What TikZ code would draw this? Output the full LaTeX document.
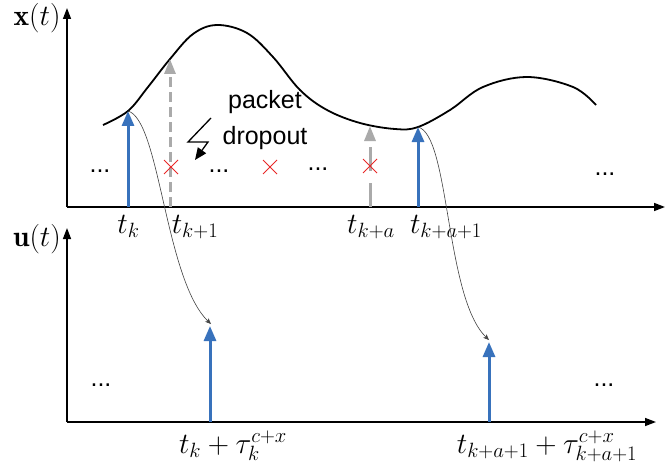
\RequirePackage{fix-cm}
\documentclass[tikz,border=0pt]{standalone}
\usepackage{fontspec}
\newfontfamily\labelsans{Liberation Sans}
\usetikzlibrary{arrows.meta}
\definecolor{sigblue}{RGB}{56,114,188}
\definecolor{siggray}{RGB}{170,170,170}
\definecolor{xred}{RGB}{232,40,40}
\begin{document}
\begin{tikzpicture}[x=1pt,y=-1pt,
  axis/.style={line width=1.5pt,-{Triangle[width=8pt,length=11pt]}},
  sigcurve/.style={line width=1.8pt},
  bluearr/.style={sigblue,line width=3pt,-{Triangle[width=12pt,length=15pt]}},
  grayarr/.style={siggray,line width=3pt,-{Triangle[width=11pt,length=15pt]}},
  link/.style={black!75,line width=0.6pt,-{Stealth[width=5pt,length=6pt]}},
  mlabel/.style={inner sep=0pt,anchor=base,font=\fontsize{29.5}{32}\selectfont},
  dots/.style={inner sep=0pt,anchor=base,font=\labelsans\fontsize{25}{28}\selectfont},
  cross/.style={xred,line width=1pt},
  bolt/.style={line width=1.3pt,-{Triangle[width=10pt,length=12pt]}}]
\useasboundingbox (0,0) rectangle (666,468);
% axes
\coordinate (O1) at (67,207);
\coordinate (Y1) at (67,8);
\coordinate (X1) at (665,207);
\coordinate (O2) at (67,422);
\coordinate (Y2) at (67,228);
\coordinate (X2) at (656,422);
\draw[axis] (O1) -- (Y1);
\draw[axis] (O1) -- (X1);
\draw[axis] (O2) -- (Y2);
\draw[axis] (O2) -- (X2);
\node[mlabel] (xl) at (37,26) {$\mathbf{x}(t)$};
\node[mlabel] (ul) at (37,246) {$\mathbf{u}(t)$};
% state curve
\draw[sigcurve] plot[smooth,tension=0.6] coordinates {(103,125) (128,111) (148,87) (170,59) (193,34) (217,25) (247,33) (273,57) (300,90) (327,110) (360,123) (395,129) (418,127) (450,110) (483,87) (527,77) (573,87) (596,105)};
% sampling arrows
\coordinate (a0) at (128,207); \coordinate (a0t) at (128,111);
\coordinate (a1) at (170,207); \coordinate (a1t) at (170,59);
\coordinate (a2) at (370,207); \coordinate (a2t) at (370,126);
\coordinate (a3) at (418,207); \coordinate (a3t) at (418,127);
\draw[bluearr] (a0) -- (a0t);
\draw[grayarr,dash pattern=on 10pt off 5pt] (a1) -- (a1t);
\draw[grayarr,dash pattern=on 24pt off 12pt] (a2) -- (a2t);
\draw[bluearr] (a3) -- (a3t);
% crosses
\foreach \n/\cx/\cy in {c1/171/167, c2/270/167, c3/370/166}{
  \coordinate (\n) at (\cx,\cy);
  \draw[cross] ([shift={(-7,-7)}]\n) -- ([shift={(7,7)}]\n);
  \draw[cross] ([shift={(-7,7)}]\n) -- ([shift={(7,-7)}]\n);
}
% dots
\node[dots] (d1) at (100,172) {...};
\node[dots] (d2) at (219,172) {...};
\node[dots] (d3) at (318,170) {...};
\node[dots] (d4) at (605,175) {...};
\node[dots] (d5) at (101,386) {...};
\node[dots] (d6) at (604,386) {...};
% packet dropout
\node[inner sep=0pt,align=center,font=\labelsans\fontsize{25}{36}\selectfont] (pd) at (265,120) {packet\\dropout};
\coordinate (b1) at (211,118);
\coordinate (b2) at (188,142);
\coordinate (b3) at (208,142);
\coordinate (b4) at (195,160);
\draw[bolt] (b1) -- (b2) -- (b3) -- (b4);
% time labels
\node[mlabel] (tk) at (128.5,233) {$t_k$};
\node[mlabel] (tk1) at (195,233) {$t_{k+1}$};
\node[mlabel] (tka) at (371,233) {$t_{k+a}$};
\node[mlabel] (tka1) at (446,233) {$t_{k+a+1}$};
% control arrows
\coordinate (u1) at (210,422); \coordinate (u1t) at (210,326);
\coordinate (u2) at (489,422); \coordinate (u2t) at (489,342);
\draw[bluearr] (u1) -- (u1t);
\draw[bluearr] (u2) -- (u2t);
\draw[link] (a0t) .. controls (160,120) and (165,280) .. (211,324);
\draw[link] (a3t) .. controls (450,135) and (445,298) .. (489,340);
\node[mlabel] (ul1) at (233,453) {$t_k+\tau_k^{c+x}$};
\node[mlabel] (ul2) at (547,453) {$t_{k+a+1}+\tau_{k+a+1}^{c+x}$};
\end{tikzpicture}
\end{document}
